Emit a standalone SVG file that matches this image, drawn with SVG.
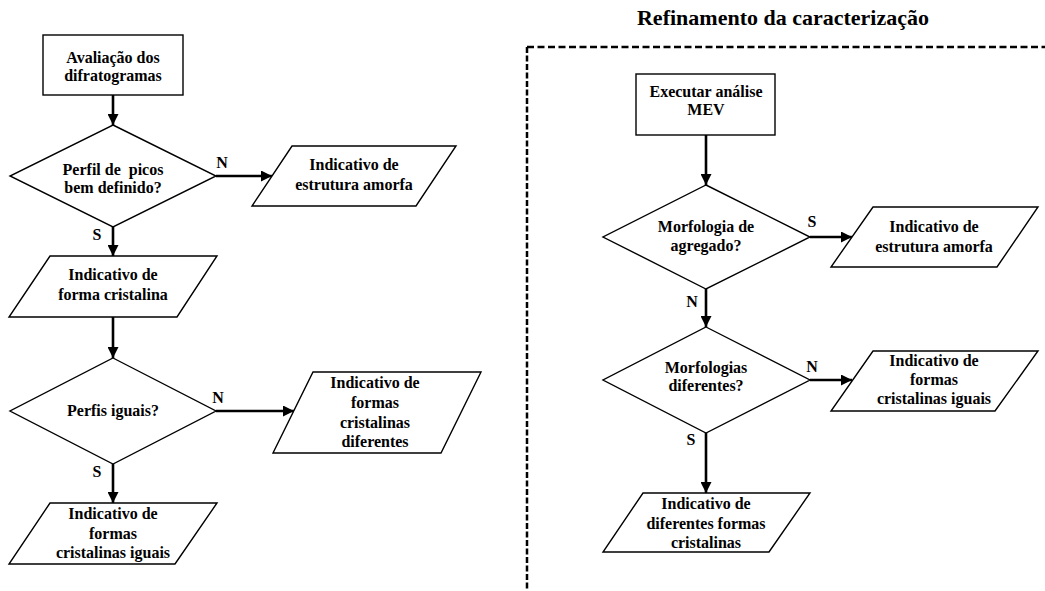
<svg xmlns="http://www.w3.org/2000/svg" width="1045" height="591" viewBox="0 0 1045 591">
<style>
.sh{fill:#fff;stroke:#000;stroke-width:1.4}
.t{font-family:"Liberation Serif","Times New Roman",serif;font-weight:bold;font-size:16px;text-anchor:middle;fill:#000}
.title{font-family:"Liberation Serif","Times New Roman",serif;font-weight:bold;font-size:22px;text-anchor:middle;fill:#000}
.c{fill:none;stroke:#000;stroke-width:2.6;marker-end:url(#ah)}
.frame{fill:none;stroke:#000;stroke-width:2.5}
</style>
<defs>
<marker id="ah" markerUnits="userSpaceOnUse" markerWidth="11" markerHeight="11" refX="10" refY="5" orient="auto" viewBox="0 0 10 10">
<path d="M0,0 L10,5 L0,10 z" fill="#000"/>
</marker>
</defs>
<rect width="1045" height="591" fill="#fff"/>

<g id="frame">
<line class="frame" x1="527" y1="47" x2="1045" y2="47" stroke-dasharray="7 3.5"/>
<line class="frame" x1="527" y1="47" x2="527" y2="591" stroke-dasharray="6 2.5"/>
<text class="title" x="783" y="25">Refinamento da caracterização</text>
</g>

<g id="connectors">
<line class="c" x1="113" y1="95" x2="113" y2="125"/>
<line class="c" x1="216" y1="176" x2="272" y2="176"/>
<line class="c" x1="113" y1="227" x2="113" y2="256"/>
<line class="c" x1="113" y1="317" x2="113" y2="358"/>
<line class="c" x1="216" y1="411" x2="294" y2="411"/>
<line class="c" x1="113" y1="464" x2="113" y2="503"/>
<line class="c" x1="706" y1="135" x2="706" y2="185"/>
<line class="c" x1="810" y1="237" x2="852" y2="237"/>
<line class="c" x1="706" y1="289" x2="706" y2="327"/>
<line class="c" x1="810" y1="380" x2="852" y2="380"/>
<line class="c" x1="706" y1="433" x2="706" y2="493"/>
</g>

<g id="labels">
<text class="t" transform="translate(222,168) scale(1,1.08)">N</text>
<text class="t" transform="translate(97,240) scale(1,1.08)">S</text>
<text class="t" transform="translate(218,403) scale(1,1.08)">N</text>
<text class="t" transform="translate(97,477) scale(1,1.08)">S</text>
<text class="t" transform="translate(812,227) scale(1,1.08)">S</text>
<text class="t" transform="translate(692,307) scale(1,1.08)">N</text>
<text class="t" transform="translate(812,372) scale(1,1.08)">N</text>
<text class="t" transform="translate(691,445) scale(1,1.08)">S</text>
</g>

<g id="n1">
<rect class="sh" x="43" y="35" width="140" height="60"/>
<text class="t" transform="translate(113,63) scale(1,1.08)"><tspan x="0" y="0">Avaliação dos</tspan><tspan x="0" y="16.67">difratogramas</tspan></text>
</g>
<g id="n2">
<polygon class="sh" points="113,125 216,176 113,227 10,176"/>
<text class="t" xml:space="preserve" transform="translate(113,175) scale(1,1.08)"><tspan x="0" y="0">Perfil de  picos</tspan><tspan x="0" y="16.67">bem definido?</tspan></text>
</g>
<g id="n3">
<polygon class="sh" points="292,146 456,146 416,206 252,206"/>
<text class="t" transform="translate(354,170) scale(1,1.08)"><tspan x="0" y="0">Indicativo de</tspan><tspan x="0" y="18.52">estrutura amorfa</tspan></text>
</g>
<g id="n4">
<polygon class="sh" points="50,256 217,256 177,317 9,317"/>
<text class="t" transform="translate(113,280) scale(1,1.08)"><tspan x="0" y="0">Indicativo de</tspan><tspan x="0" y="18.52">forma cristalina</tspan></text>
</g>
<g id="n5">
<polygon class="sh" points="113,358 216,411 113,464 10,411"/>
<text class="t" transform="translate(113,416) scale(1,1.08)">Perfis iguais?</text>
</g>
<g id="n6">
<polygon class="sh" points="313,372 481,372 441,453 273,453"/>
<text class="t" transform="translate(375,388) scale(1,1.08)"><tspan x="0" y="0">Indicativo de</tspan><tspan x="0" y="18.52">formas</tspan><tspan x="0" y="37.04">cristalinas</tspan><tspan x="0" y="54.63">diferentes</tspan></text>
</g>
<g id="n7">
<polygon class="sh" points="50,503 217,503 175,564 9,564"/>
<text class="t" transform="translate(113,519) scale(1,1.08)"><tspan x="0" y="0">Indicativo de</tspan><tspan x="0" y="18.52">formas</tspan><tspan x="0" y="36.11">cristalinas iguais</tspan></text>
</g>

<g id="n8">
<rect class="sh" x="636" y="74" width="139" height="61"/>
<text class="t" transform="translate(706,97) scale(1,1.08)"><tspan x="0" y="0">Executar análise</tspan><tspan x="0" y="16.67">MEV</tspan></text>
</g>
<g id="n9">
<polygon class="sh" points="706,185 810,237 706,289 603,237"/>
<text class="t" transform="translate(706,232) scale(1,1.08)"><tspan x="0" y="0">Morfologia de</tspan><tspan x="0" y="17.59">agregado?</tspan></text>
</g>
<g id="n10">
<polygon class="sh" points="873,207 1038,207 997,267 831,267"/>
<text class="t" transform="translate(934,232) scale(1,1.08)"><tspan x="0" y="0">Indicativo de</tspan><tspan x="0" y="18.52">estrutura amorfa</tspan></text>
</g>
<g id="n11">
<polygon class="sh" points="706,327 810,380 706,433 603,380"/>
<text class="t" transform="translate(706,373) scale(1,1.08)"><tspan x="0" y="0">Morfologias</tspan><tspan x="0" y="16.67">diferentes?</tspan></text>
</g>
<g id="n12">
<polygon class="sh" points="873,351 1038,351 995,411 831,411"/>
<text class="t" transform="translate(934,366) scale(1,1.08)"><tspan x="0" y="0">Indicativo de</tspan><tspan x="0" y="17.59">formas</tspan><tspan x="0" y="35.19">cristalinas iguais</tspan></text>
</g>
<g id="n13">
<polygon class="sh" points="643,493 810,493 769,552 603,552"/>
<text class="t" transform="translate(706,509) scale(1,1.08)"><tspan x="0" y="0">Indicativo de</tspan><tspan x="0" y="18.52">diferentes formas</tspan><tspan x="0" y="36.11">cristalinas</tspan></text>
</g>
</svg>
